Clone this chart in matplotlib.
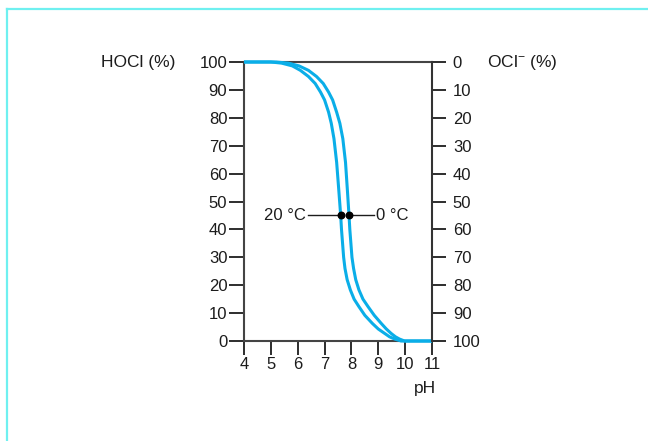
import matplotlib.pyplot as plt
from matplotlib.lines import Line2D

plt.rcParams['font.family'] = ['Liberation Sans', 'DejaVu Sans']

# pH vs HOCl share (%)
ph_20c = [4.0, 5.0, 5.4, 5.8, 6.1, 6.4, 6.65, 6.85, 7.0, 7.15, 7.25, 7.35, 7.45,
          7.53, 7.6, 7.63, 7.67, 7.71, 7.76, 7.84, 7.96, 8.1, 8.28, 8.5, 8.78,
          9.0, 9.24, 9.42, 9.61, 9.85, 11.0]
hocl_20c = [100, 100, 99.6, 98.6, 97.0, 94.8, 92.3, 89.2, 86.4, 82.0, 78.0, 72.5, 64.0,
            54.0, 45.0, 40.0, 35.0, 30.0, 26.0, 22.0, 18.3, 15.0, 12.3, 9.2, 6.3,
            4.3, 2.7, 1.5, 0.7, 0.0, 0.0]

ph_0c = [4.0, 5.2, 5.65, 6.05, 6.4, 6.7, 6.95, 7.15, 7.3, 7.45, 7.57, 7.68, 7.78,
         7.85, 7.91, 7.94, 7.98, 8.02, 8.08, 8.16, 8.28, 8.43, 8.62, 8.85, 9.11,
         9.3, 9.48, 9.64, 9.79, 9.98, 11.0]
hocl_0c = [100, 100, 99.6, 98.6, 97.0, 94.8, 92.3, 89.2, 86.4, 82.0, 78.0, 72.5, 64.0,
           54.0, 45.0, 40.0, 35.0, 30.0, 26.0, 22.0, 18.3, 15.0, 12.3, 9.2, 6.3,
           4.3, 2.7, 1.5, 0.7, 0.0, 0.0]

# marker points and label ends for the temperature labels
mark_ph = [7.6, 7.91]
mark_val = [45, 45]
label_20_ph = [6.38, 7.6]
label_0_ph = [7.91, 8.85]

yticks = list(range(0, 101, 10))
xticks = list(range(4, 12))

blue = '#0aaee8'
ink = '#1c1c1c'
fs = 12

fig = plt.figure(figsize=(6.48, 4.41), dpi=100)
ax = fig.add_axes([244 / 648, 100 / 441, 188 / 648, 279 / 441])

ax.plot(ph_20c, hocl_20c, color=blue, lw=2.2, solid_capstyle='butt', clip_on=False, zorder=3)
ax.plot(ph_0c, hocl_0c, color=blue, lw=2.2, solid_capstyle='butt', clip_on=False, zorder=3)

ax.plot(label_20_ph, [45, 45], color=ink, lw=1.0, zorder=4)
ax.plot(label_0_ph, [45, 45], color=ink, lw=1.0, zorder=4)
ax.scatter(mark_ph, mark_val, s=22, color='black', zorder=5)
ax.text(label_20_ph[0] - 0.08, 45, '20 °C', ha='right', va='center', fontsize=fs, color=ink)
ax.text(label_0_ph[1] + 0.08, 45, '0 °C', ha='left', va='center', fontsize=fs, color=ink)

ax.set_xlim(4, 11)
ax.set_ylim(0, 100)
ax.set_xticks(xticks)
ax.set_yticks(yticks)
ax.tick_params(axis='y', direction='out', length=11, width=1.3, pad=1, labelsize=fs, colors=ink)
ax.tick_params(axis='x', direction='out', length=10, width=1.3, pad=1.5, labelsize=fs, colors=ink)
for side in ['left', 'bottom', 'top']:
    ax.spines[side].set_linewidth(1.5)
    ax.spines[side].set_color('#444444')
ax.spines['right'].set_visible(False)

ax2 = ax.twinx()
ax2.set_ylim(100, 0)
ax2.set_yticks(yticks)
ax2.tick_params(axis='y', direction='out', length=10, width=1.3, pad=5, labelsize=fs, colors=ink)
for side in ['left', 'bottom', 'top']:
    ax2.spines[side].set_visible(False)
ax2.spines['right'].set_linewidth(1.5)
ax2.spines['right'].set_color('#333333')

fig.text(101 / 648, 1 - 62 / 441, 'HOCl (%)', ha='left', va='center', fontsize=12.5, color=ink)
fig.text(487 / 648, 1 - 62 / 441, 'OCl$^{\\mathregular{-}}$ (%)', ha='left', va='center',
         fontsize=12.5, color=ink)
fig.text(425 / 648, 1 - 388 / 441, 'pH', ha='center', va='center', fontsize=12.5, color=ink)

# light cyan frame lines (left and top only)
fig.add_artist(Line2D([6.5 / 648, 6.5 / 648], [0, 1 - 9 / 441], color='#6ff0f0', lw=1.6,
                      transform=fig.transFigure))
fig.add_artist(Line2D([6.5 / 648, 1], [1 - 9 / 441, 1 - 9 / 441], color='#6ff0f0', lw=1.6,
                      transform=fig.transFigure))

plt.savefig('out.png', dpi=100, facecolor='white')
plt.close()
